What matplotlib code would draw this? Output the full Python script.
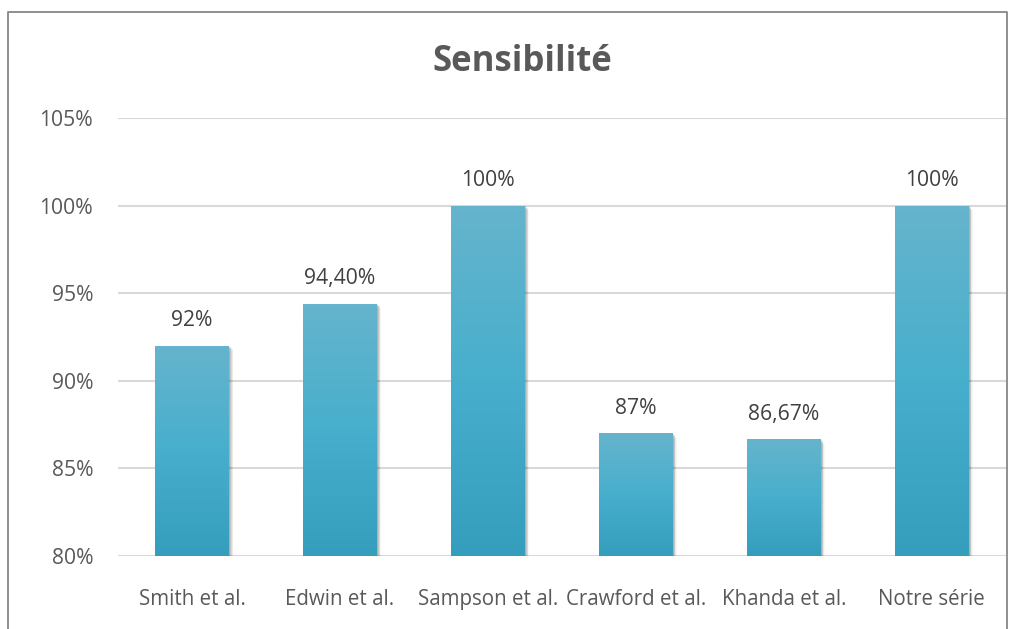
import matplotlib
matplotlib.use("Agg")
import matplotlib.pyplot as plt
import numpy as np
from matplotlib.colors import LinearSegmentedColormap
from matplotlib.patches import Rectangle
from matplotlib.lines import Line2D

plt.rcParams['font.family'] = ['Open Sans', 'DejaVu Sans']

categories = ["Smith et al.", "Edwin et al.", "Sampson et al.", "Crawford et al.",
              "Khanda et al.", "Notre série"]
values = [92.0, 94.4, 100.0, 87.0, 86.67, 100.0]
value_labels = ["92%", "94,40%", "100%", "87%", "86,67%", "100%"]
yticks = [80, 85, 90, 95, 100, 105]
ytick_labels = ["80%", "85%", "90%", "95%", "100%", "105%"]
title = "Sensibilité"

ymin, ymax = 80, 105
bar_width = 0.50
fs = 15.2

fig = plt.figure(figsize=(10.2, 6.29), dpi=100)
fig.patch.set_facecolor("white")
ax = fig.add_axes([0.1157, 0.1161, 0.8703, 0.6963])
ax.set_xlim(-0.5, len(categories) - 0.5)
ax.set_ylim(ymin, ymax)

for s in ax.spines.values():
    s.set_visible(False)
ax.set_yticks(yticks)
ax.set_yticklabels(ytick_labels)
ax.yaxis.grid(True, color="#D9D9D9", linewidth=1.5, zorder=0)
ax.set_axisbelow(True)
ax.tick_params(axis="both", length=0, colors="#595959", labelsize=fs)
ax.tick_params(axis="y", pad=18)
ax.tick_params(axis="x", pad=24)
ax.set_xticks(range(len(categories)))
ax.set_xticklabels(categories, fontsize=14.8)

grad = LinearSegmentedColormap.from_list(
    "bar", [(0.0, "#359EBC"), (0.5, "#47AFCD"), (1.0, "#66B4CC")])
gimg = np.linspace(0, 1, 256).reshape(-1, 1)

x = np.arange(len(categories))
for xi, v, lab in zip(x, values, value_labels):
    left = xi - bar_width / 2
    # soft shadow to the right
    for k, a in zip(range(1, 6), [0.11, 0.09, 0.07, 0.05, 0.03]):
        dx = 0.006 * k
        ax.add_patch(Rectangle((left + dx, ymin), bar_width, v - ymin - 0.05 * k,
                               facecolor="black", alpha=a, edgecolor="none", zorder=1))
    bar = ax.bar(xi, v - ymin, bottom=ymin, width=bar_width, color="none",
                 edgecolor="none", zorder=2)[0]
    im = ax.imshow(gimg, cmap=grad, origin="lower", aspect="auto",
                   extent=[left, left + bar_width, ymin, v], zorder=3)
    im.set_clip_path(bar)
    ax.annotate(lab, (xi, v), xytext=(0, 18), textcoords="offset points",
                ha="center", va="center", fontsize=fs, color="#404040")

ax.set_xlim(-0.5, len(categories) - 0.5)
ax.set_ylim(ymin, ymax)

fig.text(0.512, 0.902, title, ha="center", va="center", fontsize=25,
         fontweight="bold", color="#595959")

# outer chart frame
W, H = 1020, 629
fx0, fx1, fy = 8 / W, 1007 / W, 1 - 12 / H
fig.add_artist(Line2D([fx0, fx0, fx1, fx1], [0, fy, fy, 0], color="#878787",
                      linewidth=1.3, transform=fig.transFigure))

fig.savefig("out.png", dpi=100)
